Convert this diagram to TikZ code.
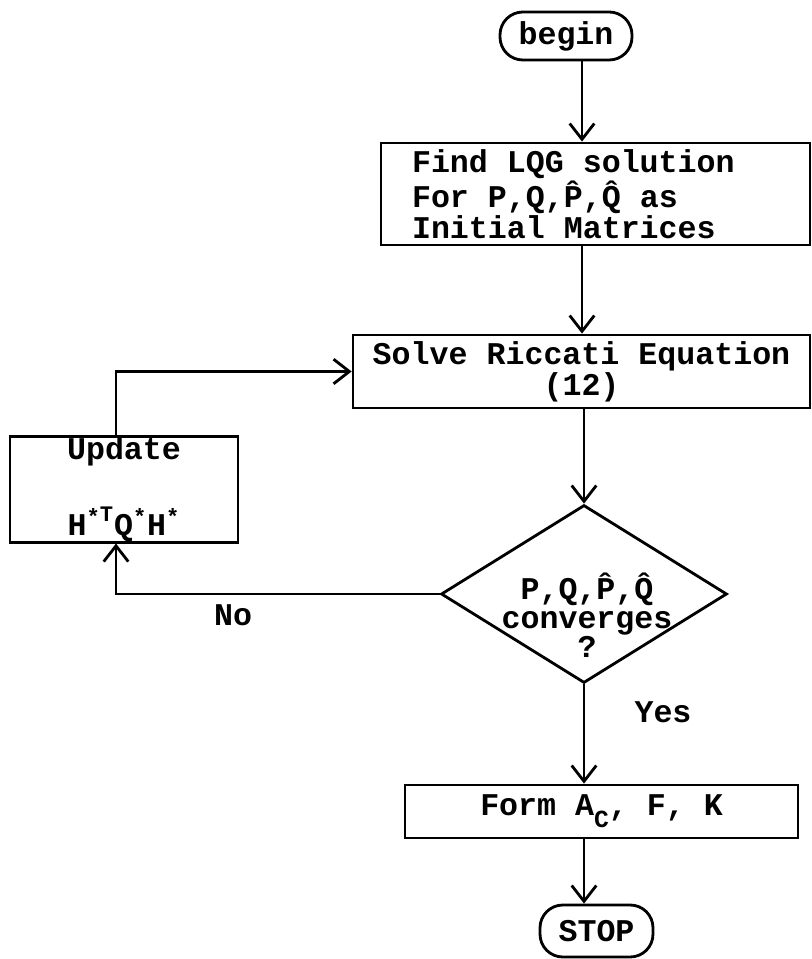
\documentclass[tikz,border=0pt]{standalone}
\usepackage{fontspec}
\setmonofont{Liberation Mono}
\usetikzlibrary{arrows.meta,calc,positioning,shapes.geometric}

\begin{document}
\begin{tikzpicture}[x=0.02cm,y=-0.02cm,line width=1.6pt,
    font=\ttfamily\bfseries\fontsize{18}{16}\selectfont,
    flow/.style={-{Straight Barb[length=9pt,width=14pt]}},
    stepbox/.style={draw,rectangle,inner sep=0pt},
    term/.style={draw,rectangle,rounded corners=13pt,inner sep=0pt},
    decide/.style={draw,diamond,inner sep=0pt}]
  \useasboundingbox (0,0) rectangle (811,959);
  \coordinate (sp) at (582,0);
  \coordinate (lp) at (116,0);
  % main column
  \node[term,minimum width=2.64cm,minimum height=0.96cm] (begin) at (566,36) {begin};
  \node[stepbox,minimum width=8.58cm,minimum height=2.04cm,text width=7.34cm,align=flush left] (lqg) at (595.5,194)
    {Find LQG solution\\For P,Q,\^P,\^Q as\\Initial Matrices};
  \node[stepbox,minimum width=9.14cm,minimum height=1.46cm,align=center] (riccati) at (581.5,371.5)
    {Solve Riccati Equation\\(12)};
  \node[decide,minimum width=5.72cm,minimum height=3.56cm] (conv) at (584,594) {};
  \node[align=center,font=\ttfamily\bfseries\fontsize{18}{16.5}\selectfont] (convtxt) at (587,615)
    {P,Q,\^P,\^Q\\converges\\?};
  \node[stepbox,minimum width=7.86cm,minimum height=1.06cm] (form) at (601.5,811.5)
    {Form A\raisebox{-0.7ex}{\fontsize{14}{14}\selectfont C}, F, K};
  \node[term,minimum width=2.26cm,minimum height=1.04cm] (stop) at (596.5,931) {STOP};
  % loop back
  \node[stepbox,minimum width=4.56cm,minimum height=2.1cm,align=center] (update) at (124,489.5)
    {Update\\[22pt]H\textsuperscript{*\raisebox{0.3ex}{T}}Q\textsuperscript{*}H\textsuperscript{*}};
  \node (no) at (233,615) {No};
  \node (yes) at (663,712) {Yes};

  \draw[flow] (begin.south -| sp) -- (lqg.north -| sp);
  \draw[flow] (lqg.south -| sp) -- (riccati.north -| sp);
  \draw[flow] (riccati.south -| conv.north) -- (conv.north);
  \draw[flow] (conv.south) -- (form.north -| conv.south);
  \draw[flow] (form.south -| conv.south) -- (stop.north -| conv.south);
  \draw[flow] (conv.west) -| (update.south -| lp);
  \draw[flow] (update.north -| lp) |- (riccati.west);
\end{tikzpicture}
\end{document}
